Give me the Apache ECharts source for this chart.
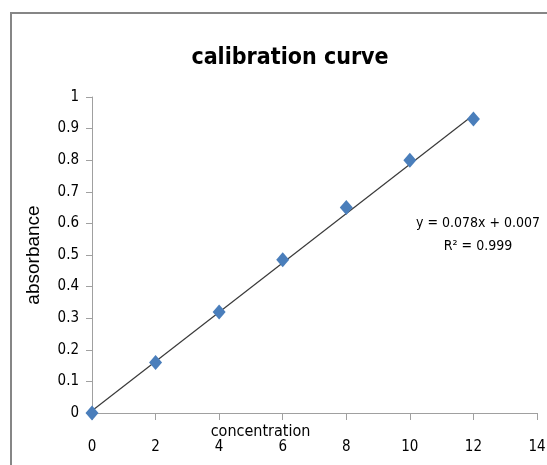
<!DOCTYPE html>
<html>
<head>
<meta charset="utf-8">
<script src="https://cdn.jsdelivr.net/npm/echarts@6/dist/echarts.min.js"></script>
<style>
  html, body { margin: 0; padding: 0; background: #fff; }
  #chart { width: 547px; height: 465px; }
</style>
</head>
<body>
<div id="chart"></div>
<script>
// measured points (concentration, absorbance)
const concentration = [0, 2, 4, 6, 8, 10, 12];
const absorbance = [0, 0.16, 0.32, 0.485, 0.65, 0.80, 0.93];
// trendline end points, from y = 0.078x + 0.007
const trendX = [0, 12];
const trendY = [0.007, 0.943];
const equationLines = ['y = 0.078x + 0.007', 'R\u00b2 = 0.999'];

const narrow = '"Liberation Sans Narrow", "DejaVu Sans Condensed", sans-serif';

const chart = echarts.init(document.getElementById('chart'));

const option = {
  animation: false,
  backgroundColor: '#fff',
  title: {
    text: 'calibration curve',
    left: 285,
    textAlign: 'center',
    top: 42,
    textStyle: {
      fontFamily: narrow,
      fontWeight: 'bold',
      fontSize: 23,
      color: '#000'
    }
  },
  grid: {
    left: 92,
    right: 10,
    top: 97,
    bottom: 52,
    containLabel: false,
    outerBoundsMode: 'none'
  },
  xAxis: {
    type: 'value',
    min: 0,
    max: 14,
    interval: 2,
    name: 'concentration',
    nameLocation: 'middle',
    nameGap: 11,
    nameMoveOverlap: false,
    nameTextStyle: { fontFamily: narrow, fontSize: 16, color: '#000', padding: [0, 108, 0, 0] },
    axisLine: { lineStyle: { color: '#a0a0a0', width: 1 } },
    axisTick: { show: true, length: 7, lineStyle: { color: '#a0a0a0' } },
    axisLabel: { margin: 27, fontFamily: narrow, fontSize: 15, color: '#000' },
    splitLine: { show: false }
  },
  yAxis: {
    type: 'value',
    min: 0,
    max: 1,
    interval: 0.1,
    name: 'absorbance',
    nameLocation: 'middle',
    nameGap: 49,
    nameRotate: 90,
    nameMoveOverlap: false,
    nameTextStyle: { fontFamily: '"Liberation Sans", Arial, sans-serif', fontSize: 19, color: '#000' },
    axisLine: { show: true, lineStyle: { color: '#a0a0a0', width: 1 } },
    axisTick: { show: true, length: 6, lineStyle: { color: '#a0a0a0' } },
    axisLabel: { margin: 13, fontFamily: narrow, fontSize: 15, color: '#000' },
    splitLine: { show: false }
  },
  series: [
    {
      name: 'trend',
      type: 'line',
      data: trendX.map((x, i) => [x, trendY[i]]),
      showSymbol: false,
      lineStyle: { color: '#3a3a3a', width: 1.2 },
      z: 2
    },
    {
      name: 'absorbance',
      type: 'scatter',
      data: concentration.map((x, i) => [x, absorbance[i]]),
      symbol: 'diamond',
      symbolSize: [13, 15],
      itemStyle: { color: '#4a7ebb', opacity: 1 },
      z: 3
    }
  ],
  graphic: [
    {
      type: 'polyline',
      shape: { points: [[11, 470], [11, 13], [550, 13]] },
      style: { stroke: '#868686', lineWidth: 2, fill: null }
    },
    {
      type: 'text',
      x: 478,
      y: 212,
      style: {
        text: equationLines.join('\n'),
        align: 'center',
        fontFamily: narrow,
        fontSize: 14,
        lineHeight: 23,
        fill: '#000'
      }
    }
  ]
};

chart.setOption(option);
</script>
</body>
</html>
